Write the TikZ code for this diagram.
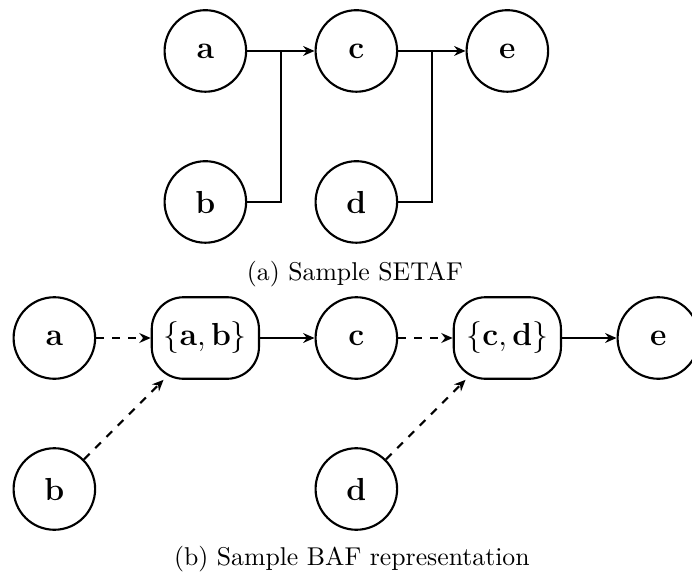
\documentclass[tikz,border=0pt]{standalone}
\usepackage{tikz}
\usetikzlibrary{positioning,arrows.meta,calc}

\begin{document}
\begin{tikzpicture}[
  arg/.style={circle, draw, line width=0.8pt, minimum size=1.08cm, inner sep=0pt,
              font=\large},
  grp/.style={rounded corners=12pt, draw, line width=0.8pt, minimum width=1.42cm,
              minimum height=1.08cm, inner sep=2pt, font=\large},
  att/.style={-{Stealth[length=1.5mm,width=1.3mm]}, line width=0.8pt},
  seg/.style={line width=0.8pt},
  supp/.style={-{Stealth[length=1.5mm,width=1.3mm]}, line width=0.8pt, dashed},
  captxt/.style={font=\fontsize{9.7}{12}\selectfont},
]
\useasboundingbox (0,0) rectangle (9.166,-7.656);

% ---------------- (a) SETAF ----------------
\node[arg] (SA) at (2.72,-0.675) {$\mathbf{a}$};
\node[arg] (SC) at (4.72,-0.675) {$\mathbf{c}$};
\node[arg] (SE) at (6.72,-0.675) {$\mathbf{e}$};
\node[arg] (SB) at (2.72,-2.675) {$\mathbf{b}$};
\node[arg] (SD) at (4.72,-2.675) {$\mathbf{d}$};

\coordinate (JAB) at ($(SA.east)!0.5!(SC.west)$);
\coordinate (JCD) at ($(SC.east)!0.5!(SE.west)$);

\draw[att] (SA) -- (SC);
\draw[seg] (SB.east) -| (JAB);
\draw[att] (SC) -- (SE);
\draw[seg] (SD.east) -| (JCD);

\node[captxt] (CAPA) at (4.70,-3.63) {(a) Sample SETAF};

% ---------------- (b) BAF ----------------
\node[arg] (BA) at (0.72,-4.477) {$\mathbf{a}$};
\node[grp] (BAB) at (2.72,-4.477) {$\{\mathbf{a},\mathbf{b}\}$};
\node[arg] (BC) at (4.72,-4.477) {$\mathbf{c}$};
\node[grp] (BCD) at (6.72,-4.477) {$\{\mathbf{c},\mathbf{d}\}$};
\node[arg] (BE) at (8.72,-4.477) {$\mathbf{e}$};
\node[arg] (BB) at (0.72,-6.477) {$\mathbf{b}$};
\node[arg] (BD) at (4.72,-6.477) {$\mathbf{d}$};

\draw[supp] (BA) -- (BAB);
\draw[supp] (BB) -- (BAB);
\draw[att] (BAB) -- (BC);
\draw[supp] (BC) -- (BCD);
\draw[supp] (BD) -- (BCD);
\draw[att] (BCD) -- (BE);

\node[captxt] (CAPB) at (4.66,-7.40) {(b) Sample BAF representation};
\end{tikzpicture}
\end{document}
